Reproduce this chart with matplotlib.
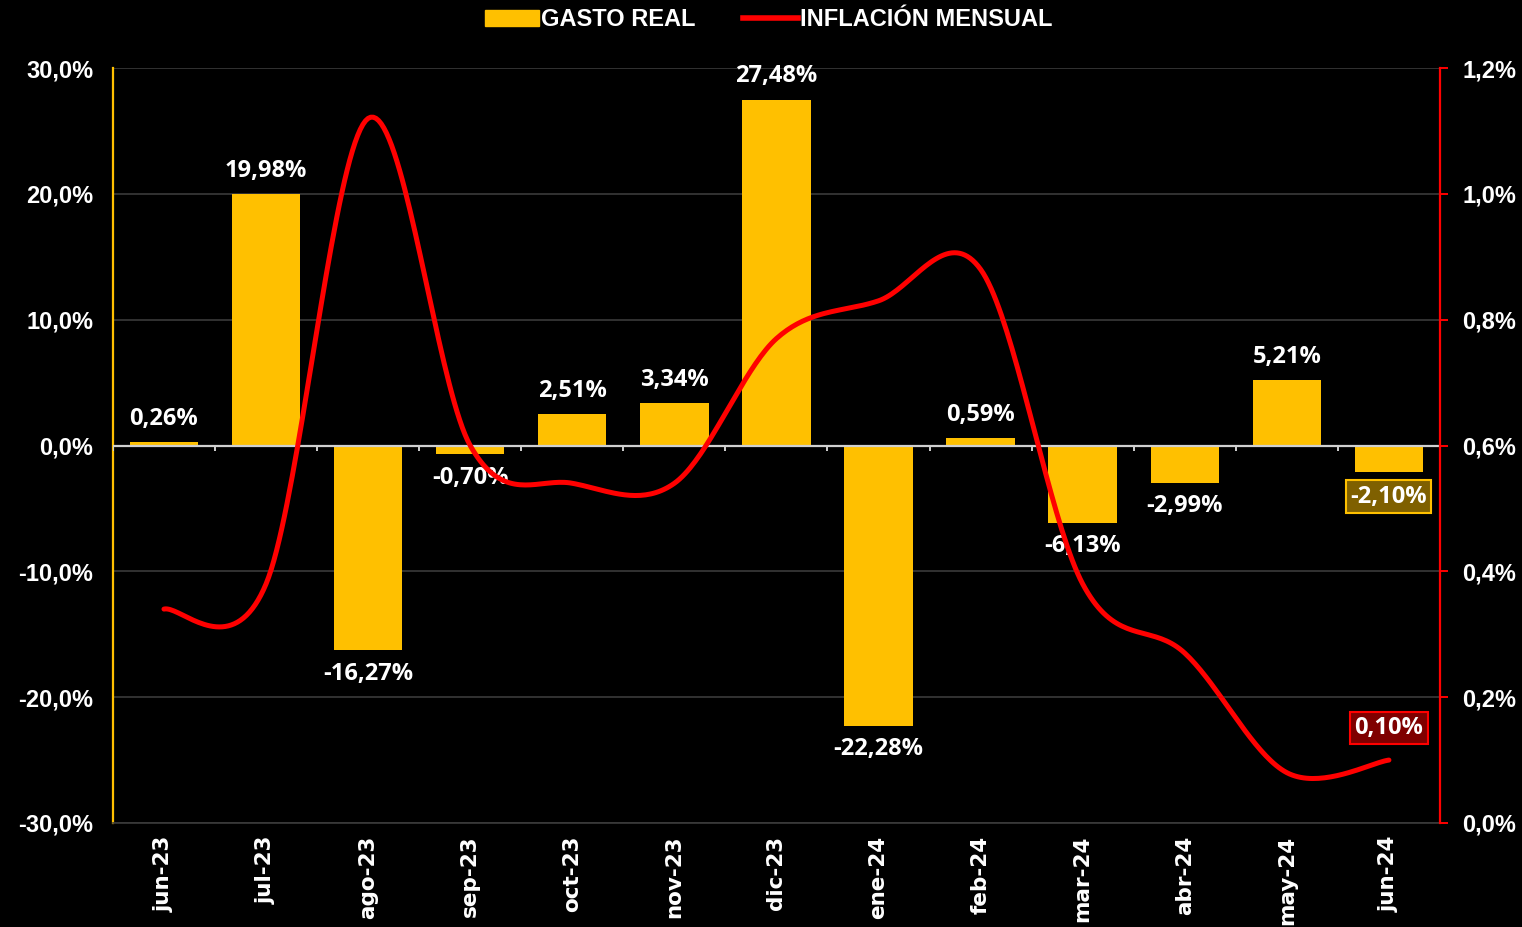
import numpy as np
import matplotlib
matplotlib.use('Agg')
import matplotlib.pyplot as plt
from matplotlib.lines import Line2D
from matplotlib.patches import Patch

# Datos
meses = ['jun-23', 'jul-23', 'ago-23', 'sep-23', 'oct-23', 'nov-23', 'dic-23',
         'ene-24', 'feb-24', 'mar-24', 'abr-24', 'may-24', 'jun-24']
gasto_real = [0.26, 19.98, -16.27, -0.70, 2.51, 3.34, 27.48,
              -22.28, 0.59, -6.13, -2.99, 5.21, -2.10]
inflacion = [0.34, 0.38, 1.12, 0.60, 0.54, 0.54, 0.77,
             0.83, 0.88, 0.38, 0.27, 0.08, 0.10]

ORO = '#FFC000'
ROJO = '#FF0000'
GRIS = '#3a3a3a'
FUENTE_ETQ = ['Open Sans', 'DejaVu Sans']

plt.rcParams['font.family'] = ['Liberation Sans Narrow', 'Liberation Sans', 'DejaVu Sans']


def suavizar(y, pasos=40):
    # curva suavizada tipo Excel (Bezier con control Catmull-Rom)
    pts = np.column_stack([np.arange(len(y), dtype=float), np.asarray(y, dtype=float)])
    ext = np.vstack([pts[0], pts, pts[-1]])
    t = np.linspace(0, 1, pasos)[:, None]
    curva = []
    for i in range(len(pts) - 1):
        p0, p3 = ext[i + 1], ext[i + 2]
        c1 = p0 + (ext[i + 2] - ext[i]) / 6
        c2 = p3 - (ext[i + 3] - ext[i + 1]) / 6
        seg = ((1 - t) ** 3) * p0 + 3 * ((1 - t) ** 2) * t * c1 + 3 * (1 - t) * t ** 2 * c2 + t ** 3 * p3
        curva.append(seg if i == 0 else seg[1:])
    curva = np.vstack(curva)
    return curva[:, 0], curva[:, 1]


def pct(v, dec=2):
    return f'{v:.{dec}f}'.replace('.', ',') + '%'


fig = plt.figure(figsize=(15.22, 9.27), dpi=100, facecolor='black')
ax = fig.add_axes([0.0742, 0.1122, 0.8719, 0.8144])
ax.set_facecolor('black')
x = np.arange(len(meses))

ax.bar(x, gasto_real, width=0.67, color=ORO, zorder=2)
ax.set_xlim(-0.5, len(meses) - 0.5)
ax.set_ylim(-30, 30)
ax.set_yticks(np.arange(-30, 31, 10))
ax.set_yticklabels([pct(v, 1) for v in np.arange(-30, 31, 10)])
ax.grid(axis='y', color=GRIS, lw=1.2, zorder=0)
ax.set_xticks(x)
ax.set_xticklabels(meses, rotation=90, fontfamily='DejaVu Sans', fontweight='bold',
                   fontsize=15.5, color='white')
ax.tick_params(axis='x', length=0, pad=9)
ax.tick_params(axis='y', length=0, pad=14, labelsize=17, labelcolor='white')
for lab in ax.get_yticklabels():
    lab.set_fontweight('bold')

# eje de categorias en cero con marcas
ax.axhline(0, color='#d0d0d0', lw=1.6, zorder=3)
ax.vlines(np.arange(len(meses) + 1) - 0.5, -0.45, 0, color='#d0d0d0', lw=1.4, zorder=3)

for s in ['top', 'right']:
    ax.spines[s].set_visible(False)
ax.spines['left'].set_color(ORO)
ax.spines['left'].set_linewidth(1.6)
ax.spines['bottom'].set_color(GRIS)
ax.spines['bottom'].set_linewidth(1.2)

# etiquetas de barras
for i, v in enumerate(gasto_real[:-1]):
    off = 0.9 if v >= 0 else -0.9
    ax.text(i, v + off, pct(v), ha='center', va='bottom' if v >= 0 else 'top',
            color='white', fontsize=17, fontweight='bold', fontfamily=FUENTE_ETQ, zorder=5)
ax.text(x[-1], gasto_real[-1] - 1.0, pct(gasto_real[-1]), ha='center', va='top',
        color='white', fontsize=17, fontweight='bold', fontfamily=FUENTE_ETQ, zorder=5,
        bbox=dict(boxstyle='square,pad=0.18', fc='#7F6000', ec=ORO, lw=1.5))

# linea de inflacion
ax2 = ax.twinx()
ax2.set_ylim(0, 1.2)
ax2.set_yticks(np.arange(0, 1.21, 0.2))
ax2.set_yticklabels([pct(v, 1) for v in np.arange(0, 1.21, 0.2)])
xs, ys = suavizar(inflacion)
ax2.plot(xs, ys, color=ROJO, lw=3.6, solid_capstyle='round', zorder=4)
ax2.tick_params(axis='y', colors=ROJO, length=6, width=1.4, pad=10,
                labelsize=17, labelcolor='white')
for lab in ax2.get_yticklabels():
    lab.set_fontweight('bold')
for s in ['top', 'left', 'bottom']:
    ax2.spines[s].set_visible(False)
ax2.spines['right'].set_color(ROJO)
ax2.spines['right'].set_linewidth(1.6)

ax2.annotate(pct(inflacion[-1]), (x[-1], inflacion[-1]), xytext=(0, 23),
             textcoords='offset points', ha='center', va='center',
             color='white', fontsize=17, fontweight='bold', fontfamily=FUENTE_ETQ,
             bbox=dict(boxstyle='square,pad=0.18', fc='#7F0000', ec=ROJO, lw=1.5))

# leyenda
handles = [Patch(color=ORO, label='GASTO REAL'),
           Line2D([0], [0], color=ROJO, lw=4, label='INFLACIÓN MENSUAL')]
leg = fig.legend(handles=handles, loc='upper center', bbox_to_anchor=(0.505, 1.014),
                 ncol=2, frameon=False, handlelength=2.3, handletextpad=0.1,
                 columnspacing=2.0, prop={'size': 17, 'weight': 'bold'})
for t in leg.get_texts():
    t.set_color('white')

fig.savefig('out.png', dpi=100, facecolor='black')
